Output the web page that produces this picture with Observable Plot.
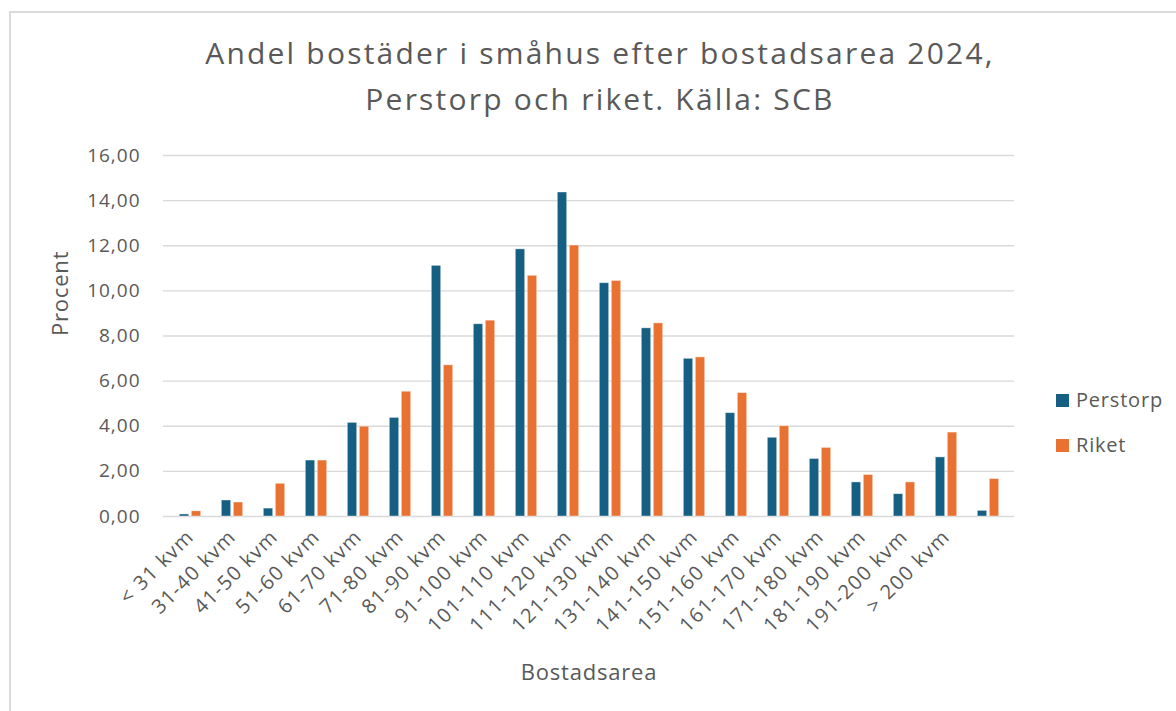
<!DOCTYPE html>
<html>
<head>
<meta charset="utf-8">
<script src="https://cdn.jsdelivr.net/npm/d3@7"></script>
<script src="https://cdn.jsdelivr.net/npm/@observablehq/plot@0.6"></script>
<style>
  html, body { margin: 0; padding: 0; background: #fff; }
  #wrap { position: relative; width: 1176px; height: 711px; overflow: hidden; font-family: "Open Sans", sans-serif; color: #595959; }
  #frame { position: absolute; left: 9px; top: 11px; width: 1300px; height: 900px; border-top: 2px solid #dadada; border-left: 2px solid #dadada; }
  .tline { position: absolute; left: 0; width: 1200px; text-align: center; font-size: 30px; line-height: 30px; letter-spacing: 2.2px; white-space: nowrap; }
  #chart { position: absolute; left: 0; top: 130px; }
  #chart g[aria-label="x-axis tick label"] text { letter-spacing: 1.4px; }
  #chart g[aria-label="y-axis tick label"] text { letter-spacing: 1px; }
  #chart g[aria-label="text"] text { letter-spacing: 0.8px; }
  .leg { position: absolute; left: 1056px; font-size: 20px; line-height: 20px; letter-spacing: 0.8px; display: flex; align-items: center; white-space: nowrap; }
  .leg span.sw { display: inline-block; width: 13px; height: 13px; margin-right: 7px; }
</style>
</head>
<body>
<div id="wrap">
  <div id="frame"></div>
  <div class="tline" style="top:38px">Andel bostäder i småhus efter bostadsarea 2024,</div>
  <div class="tline" style="top:84px">Perstorp och riket. Källa: SCB</div>
  <div id="chart"></div>
  <div class="leg" style="top:390px"><span class="sw" style="background:#156082"></span>Perstorp</div>
  <div class="leg" style="top:435px"><span class="sw" style="background:#E97132"></span>Riket</div>
</div>
<script>
const categories = ["< 31 kvm", "31-40 kvm", "41-50 kvm", "51-60 kvm", "61-70 kvm", "71-80 kvm",
  "81-90 kvm", "91-100 kvm", "101-110 kvm", "111-120 kvm", "121-130 kvm", "131-140 kvm",
  "141-150 kvm", "151-160 kvm", "161-170 kvm", "171-180 kvm", "181-190 kvm", "191-200 kvm",
  "> 200 kvm", ""];
const series = ["Perstorp", "Riket"];
const perstorp = [0.09, 0.71, 0.35, 2.48, 4.15, 4.37, 11.11, 8.52, 11.84, 14.36, 10.34, 8.34,
  6.99, 4.58, 3.49, 2.55, 1.51, 0.99, 2.62, 0.25];
const riket = [0.23, 0.62, 1.45, 2.48, 3.98, 5.53, 6.70, 8.68, 10.67, 12.01, 10.44, 8.56,
  7.05, 5.47, 4.00, 3.04, 1.84, 1.51, 3.72, 1.66];
const yTicks = [0, 2, 4, 6, 8, 10, 12, 14, 16];
const colors = ["#156082", "#E97132"];

const rowsP = categories.map((c, i) => ({cat: c, series: "Perstorp", value: perstorp[i]}));
const rowsR = categories.map((c, i) => ({cat: c, series: "Riket", value: riket[i]}));
const fmt = d => d.toFixed(2).replace(".", ",");

const chart = Plot.plot({
  width: 1176,
  height: 581,
  marginTop: 25,
  marginBottom: 195,
  marginLeft: 163,
  marginRight: 162,
  style: {fontFamily: "'Open Sans', sans-serif", color: "#595959", background: "transparent", overflow: "visible"},
  x: {domain: categories, padding: 0},
  y: {domain: [0, 16]},
  color: {domain: series, range: colors},
  marks: [
    Plot.ruleY(yTicks, {stroke: "#d9d9d9", strokeWidth: 1.4}),
    Plot.barY(rowsP, {x: "cat", y: "value", fill: "series", insetLeft: 10.3, insetRight: 22.3, stroke: "#ffffff", strokeOpacity: 0.5, strokeWidth: 0.8}),
    Plot.barY(rowsR, {x: "cat", y: "value", fill: "series", insetLeft: 22.3, insetRight: 10.3, stroke: "#ffffff", strokeOpacity: 0.5, strokeWidth: 0.8}),
    Plot.axisY({ticks: yTicks, tickSize: 0, tickPadding: 23, tickFormat: fmt, fontSize: 19, label: null}),
    Plot.axisX({tickSize: 0, tickPadding: 17, tickRotate: -45, fontSize: 20, label: null}),
    Plot.text(["Procent"], {text: d => d, frameAnchor: "left", dx: -103, rotate: -90, fontSize: 22, fill: "#595959"}),
    Plot.text(["Bostadsarea"], {text: d => d, frameAnchor: "bottom", lineAnchor: "middle", dy: 156, fontSize: 22, fill: "#595959"})
  ]
});
document.getElementById("chart").appendChild(chart);
</script>
</body>
</html>
